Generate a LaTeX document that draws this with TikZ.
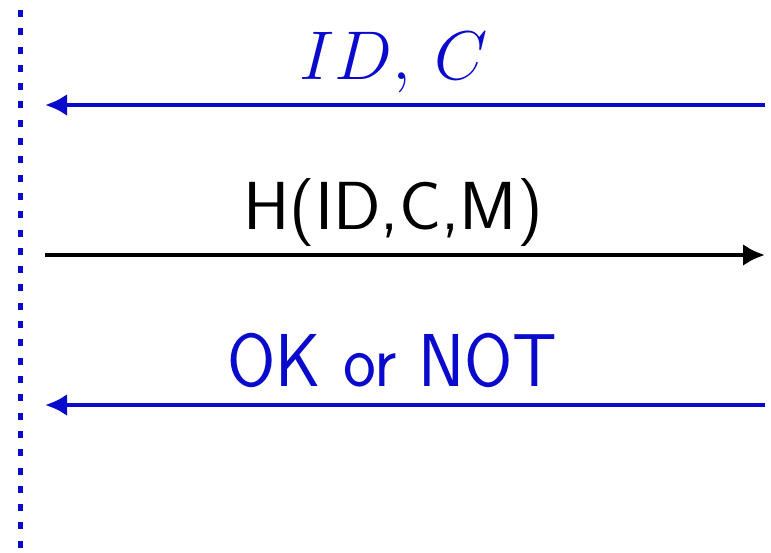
\documentclass[tikz,border=0pt]{standalone}
\usepackage{fix-cm}
\usetikzlibrary{arrows.meta}
\definecolor{msgblue}{RGB}{10,10,205}
\begin{document}
\begin{tikzpicture}[x=1pt,y=-1pt,
  msg/.style={line width=4.5pt,-{Latex[length=22pt,width=22pt]}},
  lifeline/.style={draw=msgblue,line width=4.5pt,dash pattern=on 7pt off 11.3pt},
  lbl/.style={inner sep=0pt,anchor=base}]
\useasboundingbox (0,0) rectangle (771,553);
\coordinate (lt) at (20.5,10);
\coordinate (lb) at (20.5,560);
\draw[lifeline] (lt) -- (lb);
\coordinate (a1r) at (765,105);
\coordinate (a1l) at (45,105);
\coordinate (a2l) at (45,255);
\coordinate (a2r) at (765,255);
\coordinate (a3r) at (765,405);
\coordinate (a3l) at (45,405);
\draw[msg,msgblue] (a1r) -- (a1l);
\draw[msg,black] (a2l) -- (a2r);
\draw[msg,msgblue] (a3r) -- (a3l);
\node[lbl,text=msgblue] (t1) at (393.5,80) {\fontsize{69}{80}\selectfont$ID,\hspace{12pt}C$};
\node[lbl,text=black] (t2) at (393,230) {\scalebox{1.03}[1]{\fontsize{68}{80}\selectfont\sffamily H(ID,C,M)}};
\node[lbl,text=msgblue] (t3) at (392.5,386) {\scalebox{0.93}[1]{\fontsize{75}{86}\selectfont\sffamily OK or NOT}};
\end{tikzpicture}
\end{document}
